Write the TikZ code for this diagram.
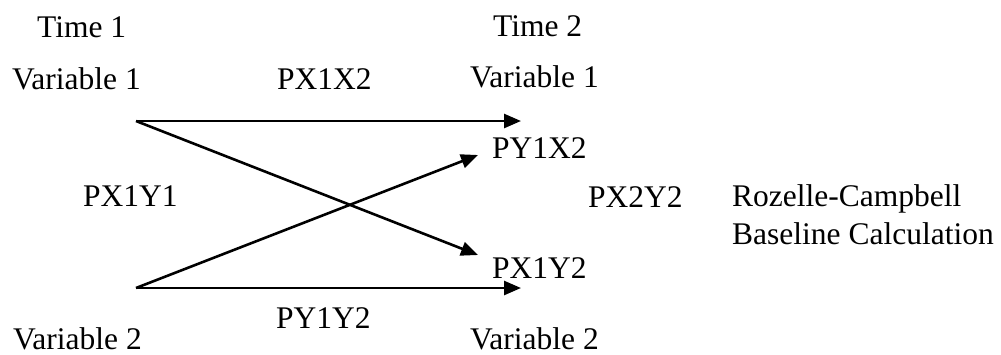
\documentclass[tikz,border=0pt]{standalone}
\usepackage{fontspec}
\setmainfont{Liberation Serif}
\usetikzlibrary{arrows.meta}
\begin{document}
\begin{tikzpicture}[x=1pt,y=-1pt,
  lbl/.style={anchor=base west,inner sep=0pt,font=\fontsize{31.5}{38}\selectfont},
  conn/.style={line width=2.6pt,-{Triangle[length=17pt,width=14pt]}}]
\useasboundingbox (0,0) rectangle (1001,354);
\node[lbl] (t1) at (37,37) {Time 1};
\node[lbl] (t2) at (493,36) {Time 2};
\node[lbl] (v1a) at (12,89) {Variable 1};
\node[lbl] (px1x2) at (277,89) {PX1X2};
\node[lbl] (v1b) at (470,87) {Variable 1};
\node[lbl] (py1x2) at (492,158) {PY1X2};
\node[lbl] (px1y1) at (83,206) {PX1Y1};
\node[lbl] (px2y2) at (588,207) {PX2Y2};
\node[lbl] (rc) at (732,206) {Rozelle-Campbell};
\node[lbl] (bc) at (732,244) {Baseline Calculation};
\node[lbl] (px1y2) at (492,278) {PX1Y2};
\node[lbl] (py1y2) at (276,328) {PY1Y2};
\node[lbl] (v2a) at (13,349) {Variable 2};
\node[lbl] (v2b) at (470,349) {Variable 2};
\coordinate (s1) at (136,121);
\coordinate (s2) at (136,288);
\coordinate (e1) at (521,121);
\coordinate (e2) at (521,288);
\coordinate (e3) at (478,155);
\coordinate (e4) at (478,255);
\draw[conn] (s1) -- (e1);
\draw[conn] (s1) -- (e4);
\draw[conn] (s2) -- (e3);
\draw[conn] (s2) -- (e2);
\end{tikzpicture}
\end{document}
